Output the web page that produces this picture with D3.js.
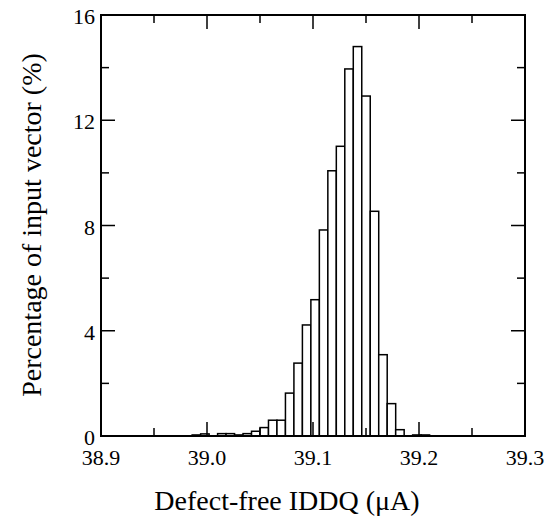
<!DOCTYPE html>
<html><head><meta charset="utf-8">
<script src="https://cdn.jsdelivr.net/npm/d3@7"></script>
<style>body{margin:0;background:#fff}svg{display:block}</style>
</head><body>
<script>
// Histogram data: bin left edges (µA) and percentages
const binWidth = 0.008;
const binStarts = [38.986, 38.994, 39.002, 39.010, 39.018, 39.026, 39.034, 39.042, 39.050, 39.058,
  39.066, 39.074, 39.082, 39.090, 39.098, 39.106, 39.114, 39.122, 39.130, 39.138,
  39.146, 39.154, 39.162, 39.170, 39.178, 39.186, 39.194, 39.202];
const percents = [0.04, 0.08, 0.0, 0.09, 0.09, 0.04, 0.09, 0.18, 0.32, 0.60,
  0.60, 1.63, 2.77, 4.22, 5.18, 7.83, 10.08, 11.01, 13.95, 14.80,
  12.92, 8.54, 3.09, 1.23, 0.24, 0.0, 0.04, 0.04];
const xTicks = [38.9, 39.0, 39.1, 39.2, 39.3];
const xMinor = [38.95, 39.05, 39.15, 39.25];
const yTicks = [0, 4, 8, 12, 16];
const yMinor = [2, 6, 10, 14];
const xTitle = "Defect-free IDDQ (\u03bcA)";
const yTitle = "Percentage of input vector (%)";

const W = 547, H = 523;
const m = {l: 101, r: 22, t: 15, b: 87};
const svg = d3.select("body").append("svg").attr("width", W).attr("height", H);
const x = d3.scaleLinear().domain([38.9, 39.3]).range([m.l, W - m.r]);
const y = d3.scaleLinear().domain([0, 16]).range([H - m.b, m.t]);
const font = "'Liberation Serif', 'Times New Roman', serif";

// bars
svg.append("g").selectAll("rect").data(binStarts.map((s, i) => ({s, v: percents[i]})).filter(d => d.v > 0))
  .join("rect")
  .attr("x", d => x(d.s)).attr("width", d => x(d.s + binWidth) - x(d.s))
  .attr("y", d => y(d.v)).attr("height", d => y(0) - y(d.v))
  .attr("fill", "#fff").attr("stroke", "#000").attr("stroke-width", 1.5);

// ticks inside
const tk = svg.append("g").attr("stroke", "#000").attr("stroke-width", 1.5);
xTicks.slice(1, -1).forEach(v => {
  tk.append("line").attr("x1", x(v)).attr("x2", x(v)).attr("y1", y(0)).attr("y2", y(0) - 14);
  tk.append("line").attr("x1", x(v)).attr("x2", x(v)).attr("y1", y(16)).attr("y2", y(16) + 14);
});
xMinor.forEach(v => {
  tk.append("line").attr("x1", x(v)).attr("x2", x(v)).attr("y1", y(0)).attr("y2", y(0) - 8);
  tk.append("line").attr("x1", x(v)).attr("x2", x(v)).attr("y1", y(16)).attr("y2", y(16) + 8);
});
yTicks.slice(1, -1).forEach(v => {
  tk.append("line").attr("x1", x(38.9)).attr("x2", x(38.9) + 14).attr("y1", y(v)).attr("y2", y(v));
  tk.append("line").attr("x1", x(39.3)).attr("x2", x(39.3) - 14).attr("y1", y(v)).attr("y2", y(v));
});
yMinor.forEach(v => {
  tk.append("line").attr("x1", x(38.9)).attr("x2", x(38.9) + 8).attr("y1", y(v)).attr("y2", y(v));
  tk.append("line").attr("x1", x(39.3)).attr("x2", x(39.3) - 8).attr("y1", y(v)).attr("y2", y(v));
});

// frame
svg.append("rect").attr("x", x(38.9)).attr("y", y(16)).attr("width", x(39.3) - x(38.9)).attr("height", y(0) - y(16))
  .attr("fill", "none").attr("stroke", "#000").attr("stroke-width", 2);

// tick labels
svg.append("g").selectAll("text").data(xTicks).join("text")
  .attr("x", d => x(d)).attr("y", y(0) + 29).attr("text-anchor", "middle")
  .attr("font-family", font).attr("font-size", 22).text(d => d.toFixed(1));
svg.append("g").selectAll("text").data(yTicks).join("text")
  .attr("x", x(38.9) - 6).attr("y", d => y(d) + 9).attr("text-anchor", "end")
  .attr("font-family", font).attr("font-size", 22).text(d => d);

// titles
svg.append("text").attr("x", 287).attr("y", 510).attr("text-anchor", "middle")
  .attr("font-family", font).attr("font-size", 28).text(xTitle);
svg.append("text").attr("transform", `translate(41,225) rotate(-90)`)
  .attr("text-anchor", "middle").attr("font-family", font).attr("font-size", 28).text(yTitle);
</script>
</body></html>
